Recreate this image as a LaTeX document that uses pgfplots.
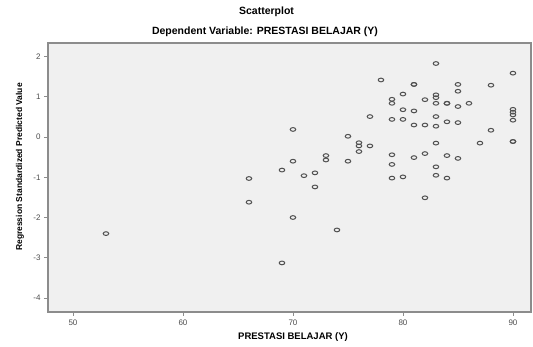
\documentclass[border=0pt]{standalone}
\usepackage{fontspec}
\setmainfont{Liberation Sans}
\usepackage{pgfplots}
\pgfplotsset{compat=1.18}
\usetikzlibrary{calc}
\definecolor{bgc}{HTML}{F0F0F0}
\definecolor{framec}{HTML}{8C8C8C}
\definecolor{markc}{HTML}{505050}
\begin{document}
\begin{tikzpicture}
\begin{axis}[
 scale only axis, width=483pt, height=269pt,
 xmin=47.73, xmax=91.64, ymin=-4.35, ymax=2.34,
 axis background/.style={fill=bgc},
 axis line style={draw=framec, line width=1.6pt},
 xtick={50,60,70,80,90}, ytick={-4,-3,-2,-1,0,1,2},
 tick align=outside, xtick pos=bottom, ytick pos=left,
 major tick length=4pt,
 tick style={draw=framec, line width=0.8pt},
 tick label style={font=\fontsize{8}{8}\selectfont, text=black!70},
 /pgf/number format/assume math mode=true,
 clip=false,
]
\addplot[only marks, mark=o, mark size=2.2pt, mark options={xscale=1.25, yscale=0.85, draw=markc, line width=1pt}] coordinates {
(53,-2.40)
(66,-1.03) (66,-1.62)
(69,-0.82) (69,-3.13)
(70,0.19) (70,-0.60) (70,-2.00)
(71,-0.96)
(72,-0.89) (72,-1.24)
(73,-0.46) (73,-0.57)
(74,-2.31)
(75,0.02) (75,-0.60)
(76,-0.14) (76,-0.22) (76,-0.36)
(77,0.51) (77,-0.22)
(78,1.42)
(79,0.94) (79,0.84) (79,0.44) (79,-0.44) (79,-0.68) (79,-1.02)
(80,1.07) (80,0.68) (80,0.44) (80,-0.99)
(81,1.31) (81,1.31) (81,0.65) (81,0.30) (81,-0.51)
(82,0.93) (82,0.30) (82,-0.41) (82,-1.51)
(83,1.83) (83,1.05) (83,0.98) (83,0.84) (83,0.51) (83,0.27) (83,-0.15) (83,-0.74) (83,-0.95)
(84,0.84) (84,0.84) (84,0.38) (84,-0.46) (84,-1.02)
(85,1.31) (85,1.14) (85,0.76) (85,0.36) (85,-0.53)
(86,0.84)
(87,-0.15)
(88,1.29) (88,0.17)
(90,1.59) (90,0.69) (90,0.62) (90,0.55) (90,0.42) (90,-0.11) (90,-0.11)
};
\end{axis}
\path (current axis.south west) coordinate (O);
\node[font=\bfseries\fontsize{10.5}{11}\selectfont] at ($(O)+(218.5pt,300pt)$) {Scatterplot};
\node[font=\bfseries\fontsize{10.5}{11}\selectfont] at ($(O)+(217pt,280pt)$) {Dependent Variable: PRESTASI BELAJAR (Y)};
\node[font=\bfseries\fontsize{9.5}{10}\selectfont] at ($(O)+(245pt,-25pt)$) {PRESTASI BELAJAR (Y)};
\node[font=\bfseries\fontsize{8.5}{9}\selectfont, rotate=90] at ($(O)+(-28pt,145pt)$) {Regression Standardized Predicted Value};
\pgfresetboundingbox
\path[use as bounding box] ($(O)+(-48pt,-35pt)$) rectangle ($(O)+(485pt,312pt)$);
\end{tikzpicture}
\end{document}
